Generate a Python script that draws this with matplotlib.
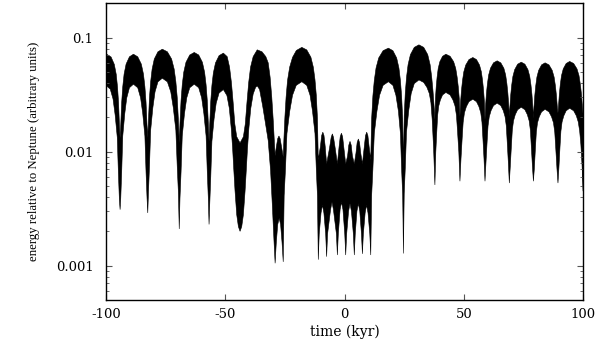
import numpy as np
import matplotlib
matplotlib.use("Agg")
import matplotlib.pyplot as plt
from matplotlib.ticker import LogLocator, NullFormatter

# upper edge of the band (time in kyr, energy), one line per arch
upper_t = [-100.0, -99.5, -97.88, -96.53, -95.72, -95.18, -94.75, -94.37, -94.1,
           -93.82, -93.43, -92.98, -92.42, -91.58, -90.18, -88.5, -86.7, -85.2, -84.3, -83.7, -83.22, -82.8, -82.5,
           -82.2, -81.77, -81.28, -80.67, -79.76, -78.23, -76.4, -74.27, -72.5, -71.43, -70.72, -70.15, -69.66, -69.3,
           -68.99, -68.54, -68.04, -67.41, -66.47, -64.89, -63.0, -61.14, -59.59, -58.66, -58.04, -57.54, -57.11, -56.8,
           -56.5, -56.08, -55.6, -55.0, -54.1, -52.6, -50.8, -49.2, -48.2, -47.4, -46.7, -46.0, -45.2, -43.8,
           -42.4, -41.6, -40.9, -40.2, -39.4, -38.3,
           -36.6, -34.6, -33.0, -32.0, -31.2, -30.5, -29.9, -29.4, -29.1,
           -28.6, -28.0, -27.5, -27.0, -26.4, -25.7,
           -25.4, -25.0, -24.5, -23.9, -23.0, -21.8, -20.2, -17.9, -15.83, -14.1, -13.07, -12.38, -11.83, -11.35, -11.0,
           -10.1, -9.6, -9.1, -8.6, -8.1, -7.5, -6.3, -5.6, -5.1, -4.6, -3.9, -3.0,
           -2.3, -1.8, -1.3, -0.8, -0.3, 0.5, 1.3, 1.8, 2.3, 2.8, 3.3, 4.1,
           4.8, 5.3, 5.8, 6.3, 6.8, 7.5, 8.3, 8.8, 9.3, 9.8, 10.3, 11.0,
           11.37, 11.89, 12.48, 13.22, 14.33, 16.18, 18.4, 20.29, 21.87, 22.81, 23.44, 23.94, 24.39, 24.7,
           25.03, 25.48, 26.0, 26.65, 27.63, 29.25, 31.2, 33.21, 34.89, 35.89, 36.56, 37.1, 37.57, 37.9,
           38.13, 38.45, 38.82, 39.28, 39.97, 41.12, 42.5, 44.27, 45.75, 46.63, 47.22, 47.69, 48.11, 48.4,
           48.67, 49.05, 49.48, 50.02, 50.83, 52.18, 53.8, 55.33, 56.6, 57.37, 57.88, 58.29, 58.65, 58.9,
           59.16, 59.51, 59.92, 60.43, 61.2, 62.47, 64.0, 65.53, 66.81, 67.57, 68.08, 68.49, 68.85, 69.1,
           69.35, 69.7, 70.1, 70.6, 71.35, 72.6, 74.1, 75.63, 76.91, 77.67, 78.18, 78.59, 78.95, 79.2,
           79.44, 79.79, 80.18, 80.67, 81.41, 82.63, 84.1, 85.72, 87.07, 87.88, 88.42, 88.85, 89.23, 89.5,
           89.74, 90.09, 90.48, 90.97, 91.71, 92.93, 94.4, 96.08, 97.48, 98.32, 98.88, 99.33, 100.0]
upper_e = [0.0705, 0.071, 0.0675, 0.0582, 0.0476, 0.0369, 0.027, 0.017, 0.0132,
           0.0171, 0.0271, 0.0371, 0.0478, 0.0585, 0.0678, 0.0714, 0.0678, 0.0585, 0.0478, 0.0371, 0.0271, 0.0171, 0.0132,
           0.019, 0.030, 0.0411, 0.0529, 0.0648, 0.075, 0.079, 0.075, 0.0648, 0.0529, 0.0411, 0.030, 0.019, 0.0119,
           0.0178, 0.0281, 0.0385, 0.0496, 0.0607, 0.0703, 0.074, 0.0703, 0.0607, 0.0496, 0.0385, 0.0281, 0.0178, 0.0123,
           0.0175, 0.0277, 0.038, 0.0489, 0.0599, 0.0694, 0.073, 0.068, 0.055, 0.040, 0.027, 0.0175, 0.0135, 0.0119,
           0.0135, 0.0175, 0.027, 0.040, 0.055, 0.068,
           0.078, 0.075, 0.068, 0.060, 0.045, 0.030, 0.019, 0.012, 0.0092,
           0.011, 0.013, 0.0137, 0.013, 0.011, 0.009,
           0.013, 0.020, 0.030, 0.042, 0.055, 0.067, 0.077, 0.082, 0.0779, 0.0672, 0.0549, 0.0426, 0.0312, 0.0197, 0.0085,
           0.0111, 0.0138, 0.0148, 0.0138, 0.0111, 0.0078, 0.0107, 0.0133, 0.0143, 0.0133, 0.0107, 0.0078,
           0.0109, 0.0135, 0.0145, 0.0135, 0.0109, 0.0078, 0.0092, 0.0114, 0.0123, 0.0114, 0.0092, 0.0078,
           0.0097, 0.012, 0.0129, 0.012, 0.0097, 0.0078, 0.0111, 0.0138, 0.0148, 0.0138, 0.0111, 0.0085,
           0.0194, 0.0307, 0.042, 0.0541, 0.0662, 0.0767, 0.0807, 0.0767, 0.0662, 0.0541, 0.042, 0.0307, 0.0194, 0.0074,
           0.0207, 0.0328, 0.0449, 0.0578, 0.0708, 0.082, 0.0863, 0.082, 0.0708, 0.0578, 0.0449, 0.034, 0.025, 0.019,
           0.0293, 0.0371, 0.045, 0.0536, 0.0614, 0.0685, 0.0714, 0.0685, 0.0614, 0.0536, 0.045, 0.0371, 0.0293, 0.0204,
           0.0274, 0.0347, 0.0421, 0.0501, 0.0574, 0.0641, 0.0668, 0.0641, 0.0574, 0.0501, 0.0421, 0.0347, 0.0274, 0.019,
           0.0256, 0.0325, 0.0394, 0.0469, 0.0538, 0.060, 0.0625, 0.060, 0.0538, 0.0469, 0.0394, 0.0325, 0.0256, 0.0204,
           0.0249, 0.0316, 0.0383, 0.0456, 0.0523, 0.0584, 0.0608, 0.0584, 0.0523, 0.0456, 0.0383, 0.0316, 0.0249, 0.0196,
           0.0246, 0.0312, 0.0378, 0.045, 0.0516, 0.0576, 0.060, 0.0576, 0.0516, 0.045, 0.0378, 0.0312, 0.0246, 0.0218,
           0.0253, 0.0321, 0.0389, 0.0463, 0.0531, 0.0592, 0.0617, 0.0592, 0.0531, 0.0463, 0.0389, 0.0321, 0.0215]

# lower edge of the band
lower_t = [-100.0, -98.23, -97.05, -96.17, -95.28, -94.81, -94.4, -94.1,
           -93.82, -93.43, -92.98, -92.14, -91.3, -90.18, -88.5, -86.7, -85.5, -84.6, -83.7, -83.22, -82.8, -82.5,
           -82.2, -81.77, -81.28, -80.37, -79.45, -78.23, -76.4, -74.27, -72.85, -71.79, -70.72, -70.15, -69.66, -69.3,
           -68.99, -68.54, -68.04, -67.1, -66.15, -64.89, -63.0, -61.14, -59.9, -58.97, -58.04, -57.54, -57.11, -56.8,
           -56.5, -56.08, -55.6, -54.7, -53.8, -52.6, -50.8, -49.3, -48.3, -47.5, -46.9, -46.5, -45.9, -45.2, -44.5,
           -43.8, -43.1, -42.4, -41.7, -41.1, -40.7, -40.1, -39.3, -38.3, -37.3,
           -36.6, -35.6, -34.3, -33.2, -32.0, -31.0, -30.3, -29.6, -29.1,
           -28.6, -28.0, -27.4, -26.8, -26.2, -25.7,
           -25.31, -24.76, -24.14, -22.97, -21.8, -20.24, -17.9, -15.83, -14.45, -13.42, -12.38, -11.83, -11.35, -11.0,
           -10.6, -9.85, -9.25, -8.65, -7.9, -7.5, -7.1, -5.85, -5.25, -4.65, -3.4, -3.0,
           -2.6, -1.85, -1.25, -0.65, 0.1, 0.5, 0.9, 1.7, 2.3, 2.9, 3.7, 4.1,
           4.5, 5.2, 5.8, 6.4, 7.1, 7.5, 7.9, 8.65, 9.25, 9.85, 10.6, 11.0,
           11.37, 11.89, 12.48, 13.59, 14.7, 16.18, 18.4, 20.29, 21.55, 22.6, 23.44, 23.94, 24.39, 24.7,
           25.03, 25.48, 26.0, 26.98, 27.95, 29.25, 31.2, 33.21, 34.55, 35.56, 36.23, 36.76, 37.36, 37.9,
           38.27, 38.68, 39.05, 39.51, 40.2, 41.12, 42.5, 44.27, 45.45, 46.34, 46.93, 47.4, 47.93, 48.4,
           48.83, 49.32, 49.75, 50.29, 51.1, 52.18, 53.8, 55.33, 56.35, 57.12, 57.63, 58.03, 58.49, 58.9,
           59.31, 59.77, 60.18, 60.69, 61.45, 62.47, 64.0, 65.53, 66.55, 67.32, 67.83, 68.23, 68.69, 69.1,
           69.5, 69.95, 70.35, 70.85, 71.6, 72.6, 74.1, 75.63, 76.65, 77.42, 77.93, 78.33, 78.79, 79.2,
           79.59, 80.03, 80.43, 80.92, 81.65, 82.63, 84.1, 85.72, 86.8, 87.61, 88.15, 88.58, 89.07, 89.5,
           89.89, 90.33, 90.73, 91.22, 91.95, 92.93, 94.4, 96.08, 97.2, 98.0, 98.6, 99.1, 99.6, 100.0]
lower_e = [0.038, 0.0353, 0.0289, 0.0209, 0.0133, 0.0065, 0.0038, 0.0031,
           0.0039, 0.0066, 0.0137, 0.0215, 0.0296, 0.0363, 0.039, 0.0363, 0.0296, 0.0215, 0.0137, 0.0066, 0.0039, 0.0029,
           0.0044, 0.0075, 0.0154, 0.0242, 0.0334, 0.0409, 0.044, 0.0409, 0.0334, 0.0242, 0.0154, 0.0075, 0.0044, 0.0021,
           0.0039, 0.0066, 0.0137, 0.0215, 0.0296, 0.0363, 0.039, 0.0363, 0.0296, 0.0215, 0.0137, 0.0066, 0.0039, 0.0023,
           0.0035, 0.006, 0.0123, 0.0193, 0.0266, 0.0326, 0.035, 0.031, 0.024, 0.016, 0.0105, 0.0074, 0.0045, 0.0028, 0.0022,
           0.0020, 0.0022, 0.0028, 0.0045, 0.0074, 0.0105, 0.016, 0.024, 0.032, 0.0365,
           0.0377, 0.035, 0.025, 0.018, 0.0125, 0.0068, 0.0035, 0.0017, 0.00105,
           0.0016, 0.0023, 0.0026, 0.0023, 0.0016, 0.00108,
           0.0041, 0.007, 0.0144, 0.0226, 0.0312, 0.0381, 0.041, 0.0381, 0.0312, 0.0226, 0.0144, 0.007, 0.0041, 0.00113,
           0.0019, 0.0029, 0.0034, 0.0029, 0.0019, 0.0012, 0.0019, 0.0031, 0.0036, 0.0031, 0.0019, 0.00124,
           0.0019, 0.0031, 0.0036, 0.0031, 0.0019, 0.00124, 0.0019, 0.003, 0.0035, 0.003, 0.0019, 0.00124,
           0.0019, 0.003, 0.0035, 0.003, 0.0019, 0.00127, 0.0019, 0.0029, 0.0034, 0.0029, 0.0019, 0.00124,
           0.0041, 0.007, 0.0144, 0.0226, 0.0312, 0.0381, 0.041, 0.0381, 0.0312, 0.0226, 0.0144, 0.007, 0.0041, 0.00128,
           0.0043, 0.0072, 0.0149, 0.0234, 0.0323, 0.0395, 0.0425, 0.0404, 0.0366, 0.0323, 0.0268, 0.0191, 0.0105, 0.0051,
           0.0099, 0.0149, 0.0208, 0.0251, 0.0284, 0.0314, 0.033, 0.0314, 0.0284, 0.0251, 0.0208, 0.0149, 0.0099, 0.0055,
           0.0086, 0.013, 0.0181, 0.0219, 0.0248, 0.0274, 0.0288, 0.0274, 0.0248, 0.0219, 0.0181, 0.013, 0.0086, 0.0055,
           0.008, 0.012, 0.0168, 0.0202, 0.0229, 0.0253, 0.0266, 0.0253, 0.0229, 0.0202, 0.0168, 0.012, 0.008, 0.0053,
           0.0074, 0.011, 0.0154, 0.0186, 0.0211, 0.0233, 0.0245, 0.0233, 0.0211, 0.0186, 0.0154, 0.011, 0.0074, 0.0055,
           0.0071, 0.0106, 0.0148, 0.0179, 0.0202, 0.0223, 0.0235, 0.0223, 0.0202, 0.0179, 0.0148, 0.0106, 0.0071, 0.0053,
           0.0072, 0.0108, 0.0151, 0.0182, 0.0206, 0.0228, 0.024, 0.0228, 0.0206, 0.0182, 0.0151, 0.0115, 0.0075, 0.0045]

xticks = [-100, -50, 0, 50, 100]
yticks = [0.001, 0.01, 0.1]
ytick_labels = ["0.001", "0.01", "0.1"]

fig = plt.figure(figsize=(6, 3.4), dpi=100)
ax = fig.add_axes([0.1767, 0.1176, 0.795, 0.873])

# band = upper edge forward, lower edge back
poly_t = np.concatenate([upper_t, lower_t[::-1]])
poly_e = np.concatenate([upper_e, lower_e[::-1]])
ax.fill(poly_t, poly_e, facecolor="black", edgecolor="black", linewidth=0.4)

ax.set_yscale("log")
ax.set_xlim(-100, 100)
ax.set_ylim(0.0005, 0.2)

ax.set_xticks(xticks)
ax.set_xticklabels([str(t) for t in xticks])
ax.set_yticks(yticks)
ax.set_yticklabels(ytick_labels)
ax.yaxis.set_minor_locator(LogLocator(base=10, subs=np.arange(2, 10)))
ax.yaxis.set_minor_formatter(NullFormatter())

for lab in ax.get_xticklabels() + ax.get_yticklabels():
    lab.set_family("DejaVu Serif")
    lab.set_fontsize(9.5)

ax.tick_params(which="both", direction="in", top=True, right=True, color="#555555")
ax.tick_params(which="major", length=4, width=0.8)
ax.tick_params(which="minor", length=2.5, width=0.6)
ax.tick_params(axis="x", pad=6)
ax.tick_params(axis="y", pad=9)

for s in ax.spines.values():
    s.set_linewidth(1.0)

ax.set_xlabel("time (kyr)", family="DejaVu Serif", fontsize=10, labelpad=2)
ax.set_ylabel("energy relative to Neptune (arbitrary units)",
              family="Liberation Serif", fontsize=9.2, labelpad=11)

fig.savefig("out.png", dpi=100)
